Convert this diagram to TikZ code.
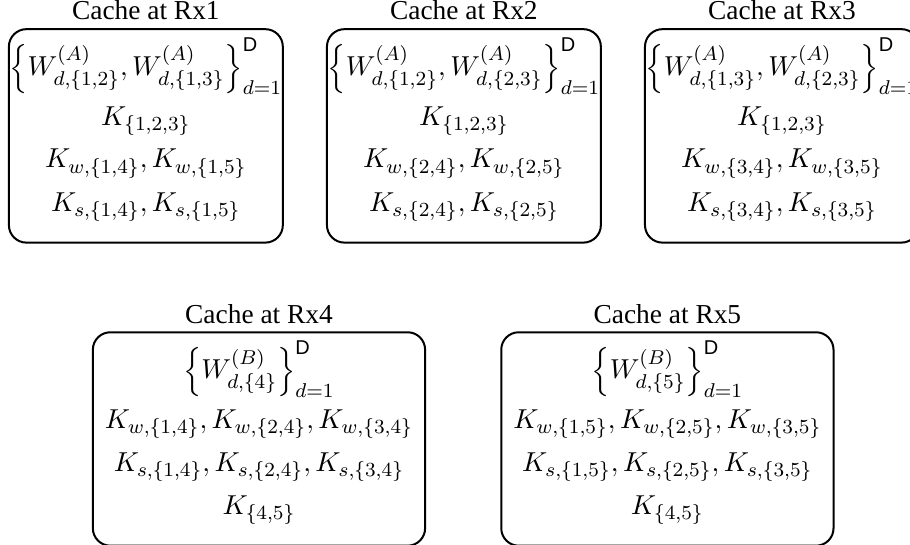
\documentclass[tikz,border=0pt,11pt]{standalone}
\usepackage{amsmath}
\usepackage[no-math]{fontspec}
\setmainfont{Liberation Serif}
\setsansfont{Liberation Sans}

% sans-serif upper limit of the file index
\newcommand{\Dsf}{\text{\sffamily D}}

\begin{document}
\begin{tikzpicture}[
  font=\rmfamily,
  cachebox/.style={draw, thick, rounded corners=7pt, minimum height=3cm},
  cachetitle/.style={anchor=base, inner sep=0pt, font=\rmfamily},
  cacheline/.style={anchor=base, inner sep=0pt}
]

  % Fix the page to the size of the figure
  \useasboundingbox (0,0) rectangle (12.79,-7.66);

  % ---- Top row: the caches of Rx1, Rx2 and Rx3 ----

  % Cache at Rx1
  \node[cachebox, minimum width=3.85cm] (rx1) at (2.05,-1.91) {};
  \node[cachetitle] (rx1title) at (2.05,-0.28) {Cache at Rx1};
  \node[cacheline] (rx1a) at (2.05,-1.06)
    {$\left\{W^{(A)}_{d,\{1,2\}}, W^{(A)}_{d,\{1,3\}}\right\}^{\Dsf}_{d=1}$};
  \node[cacheline] (rx1b) at (2.05,-1.76) {$K_{\{1,2,3\}}$};
  \node[cacheline] (rx1c) at (2.05,-2.36) {$K_{w,\{1,4\}}, K_{w,\{1,5\}}$};
  \node[cacheline] (rx1d) at (2.05,-2.97) {$K_{s,\{1,4\}}, K_{s,\{1,5\}}$};

  % Cache at Rx2
  \node[cachebox, minimum width=3.85cm] (rx2) at (6.52,-1.91) {};
  \node[cachetitle] (rx2title) at (6.52,-0.28) {Cache at Rx2};
  \node[cacheline] (rx2a) at (6.52,-1.06)
    {$\left\{W^{(A)}_{d,\{1,2\}}, W^{(A)}_{d,\{2,3\}}\right\}^{\Dsf}_{d=1}$};
  \node[cacheline] (rx2b) at (6.52,-1.76) {$K_{\{1,2,3\}}$};
  \node[cacheline] (rx2c) at (6.52,-2.36) {$K_{w,\{2,4\}}, K_{w,\{2,5\}}$};
  \node[cacheline] (rx2d) at (6.52,-2.97) {$K_{s,\{2,4\}}, K_{s,\{2,5\}}$};

  % Cache at Rx3 (runs past the right edge of the page)
  \node[cachebox, minimum width=3.85cm] (rx3) at (10.99,-1.91) {};
  \node[cachetitle] (rx3title) at (10.99,-0.28) {Cache at Rx3};
  \node[cacheline] (rx3a) at (10.99,-1.06)
    {$\left\{W^{(A)}_{d,\{1,3\}}, W^{(A)}_{d,\{2,3\}}\right\}^{\Dsf}_{d=1}$};
  \node[cacheline] (rx3b) at (10.99,-1.76) {$K_{\{1,2,3\}}$};
  \node[cacheline] (rx3c) at (10.99,-2.36) {$K_{w,\{3,4\}}, K_{w,\{3,5\}}$};
  \node[cacheline] (rx3d) at (10.99,-2.97) {$K_{s,\{3,4\}}, K_{s,\{3,5\}}$};

  % ---- Bottom row: the caches of Rx4 and Rx5 ----

  % Cache at Rx4
  \node[cachebox, minimum width=4.67cm] (rx4) at (3.64,-6.17) {};
  \node[cachetitle] (rx4title) at (3.64,-4.54) {Cache at Rx4};
  \node[cacheline] (rx4a) at (3.64,-5.32)
    {$\left\{W^{(B)}_{d,\{4\}}\right\}^{\Dsf}_{d=1}$};
  \node[cacheline] (rx4b) at (3.64,-6.02)
    {$K_{w,\{1,4\}}, K_{w,\{2,4\}}, K_{w,\{3,4\}}$};
  \node[cacheline] (rx4c) at (3.64,-6.62)
    {$K_{s,\{1,4\}}, K_{s,\{2,4\}}, K_{s,\{3,4\}}$};
  \node[cacheline] (rx4d) at (3.64,-7.23) {$K_{\{4,5\}}$};

  % Cache at Rx5
  \node[cachebox, minimum width=4.67cm] (rx5) at (9.38,-6.17) {};
  \node[cachetitle] (rx5title) at (9.38,-4.54) {Cache at Rx5};
  \node[cacheline] (rx5a) at (9.38,-5.32)
    {$\left\{W^{(B)}_{d,\{5\}}\right\}^{\Dsf}_{d=1}$};
  \node[cacheline] (rx5b) at (9.38,-6.02)
    {$K_{w,\{1,5\}}, K_{w,\{2,5\}}, K_{w,\{3,5\}}$};
  \node[cacheline] (rx5c) at (9.38,-6.62)
    {$K_{s,\{1,5\}}, K_{s,\{2,5\}}, K_{s,\{3,5\}}$};
  \node[cacheline] (rx5d) at (9.38,-7.23) {$K_{\{4,5\}}$};

\end{tikzpicture}
\end{document}
